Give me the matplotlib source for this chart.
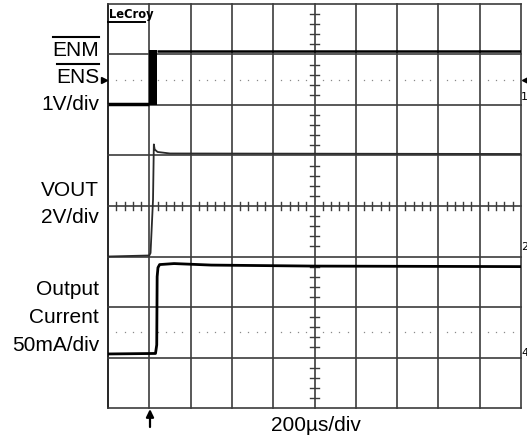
import matplotlib
matplotlib.use('Agg')
import matplotlib.pyplot as plt
import numpy as np
from matplotlib.lines import Line2D
from matplotlib.transforms import IdentityTransform

# ---------------- data (time in divisions, level in divisions from bottom) ----
en_edge = [1.0, 1.19]          # ENM / ENS rising edge span
en_low_time = [0.0, 1.0]
en_low_level = [6.02, 6.02]
en_high_time = [1.19, 10.0]
en_high_level = [7.06, 7.06]
en_levels = [6.0, 7.08]

vout_time = [0.0, 1.0, 1.03, 1.09, 1.11, 1.13, 1.2, 1.5, 10.0]
vout_level = [3.0, 3.02, 3.07, 4.12, 5.22, 5.12, 5.07, 5.04, 5.03]

cur_time = [0.0, 1.15, 1.18, 1.19, 1.21, 1.25, 1.6, 2.5, 5.0, 10.0]
cur_level = [1.07, 1.08, 1.25, 2.6, 2.78, 2.84, 2.86, 2.83, 2.81, 2.80]

left_labels = [("ENM", 56), ("ENS", 83), ("1V/div", 110),
               ("VOUT", 196), ("2V/div", 223),
               ("Output", 295), ("Current", 323), ("50mA/div", 351)]
overlined = ["ENM", "ENS"]
right_markers = [("1", 100), ("2", 250), ("4", 356)]
time_label = "200µs/div"
brand = "LeCroy"

# ---------------- figure ------------------------------------------------------
W, H = 527, 440
fig = plt.figure(figsize=(W / 100, H / 100), dpi=100)
fig.patch.set_facecolor('white')
x0, x1, ytop, ybot = 108, 521, 4, 408
ax = fig.add_axes([x0 / W, 1 - ybot / H, (x1 - x0) / W, (ybot - ytop) / H])
ax.set_xlim(0, 10)
ax.set_ylim(0, 8)
ax.set_axis_off()

grid_c = '#3c3c3c'
for i in range(11):
    ax.axvline(i, color=('black' if i == 0 else grid_c), lw=1.2, clip_on=False, zorder=1)
for j in range(9):
    ax.axhline(j, color=grid_c, lw=1.2, clip_on=False, zorder=1)

# centre graticule ticks
minor_x = [t for t in np.arange(0.2, 10, 0.2) if abs(t - round(t)) > 1e-6]
minor_y = [t for t in np.arange(0.2, 8, 0.2) if abs(t - round(t)) > 1e-6]
for t in minor_x:
    ax.plot([t, t], [4 - 0.08, 4 + 0.08], color=grid_c, lw=1.0, zorder=1)
for t in minor_y:
    ax.plot([5 - 0.11, 5 + 0.11], [t, t], color=grid_c, lw=1.0, zorder=1)

# dotted reference lines
for lvl in (6.5, 1.5):
    ax.plot(minor_x, [lvl] * len(minor_x), ls='none', marker='s', ms=0.9,
            mew=0, color='#8a8a8a', zorder=1)

# traces
ax.fill_between(en_edge, en_levels[0], en_levels[1], color='black', lw=0, zorder=3)
ax.plot(en_low_time, en_low_level, color='black', lw=2.5, zorder=3, solid_capstyle='butt')
ax.plot(en_high_time, en_high_level, color='black', lw=1.8, zorder=3, solid_capstyle='butt')
ax.plot(vout_time, vout_level, color='#2a2a2a', lw=1.3, zorder=3)
ax.plot(cur_time, cur_level, color='black', lw=2.0, zorder=3)

# ---------------- text --------------------------------------------------------
fnt = dict(family='Liberation Sans', fontsize=15, color='black')
texts = {}
for lab, yb in left_labels:
    texts[lab] = fig.text(99 / W, 1 - yb / H, lab, ha='right', va='baseline', **fnt)

fig.text(316 / W, 1 - 431 / H, time_label, ha='center', va='baseline', **fnt)
for lab, yb in right_markers:
    fig.text(521.3 / W, 1 - yb / H, lab, ha='left', va='baseline',
             family='Liberation Sans Narrow', fontsize=8, color='black')

fig.text(108.5 / W, 1 - 18 / H, brand, ha='left', va='baseline',
         family='DejaVu Sans', fontweight='bold', fontstretch='condensed',
         fontsize=9.2, color='black')

renderer = fig.canvas.get_renderer()
ov_y = {"ENM": 37, "ENS": 64}
for lab in overlined:
    bb = texts[lab].get_window_extent(renderer)
    yy = H - ov_y[lab]
    fig.add_artist(Line2D([bb.x0 + 1, bb.x1], [yy, yy], color='black', lw=1.5,
                          transform=IdentityTransform()))

# underline of brand
fig.add_artist(Line2D([108, 145], [H - 22, H - 22], color='black', lw=1.4,
                      transform=IdentityTransform()))
# ENS pointer and channel 1 pointer
fig.add_artist(Line2D([103.5], [H - 80], marker='>', ms=5, color='black', ls='none',
                      transform=IdentityTransform()))
fig.add_artist(Line2D([525], [H - 80], marker='<', ms=5, color='black', ls='none',
                      transform=IdentityTransform()))
# trigger arrow
ax.annotate('', xy=(150, H - 409), xytext=(150, H - 427),
            xycoords='figure pixels', textcoords='figure pixels',
            arrowprops=dict(arrowstyle='-|>,head_length=0.45,head_width=0.22',
                            color='black', lw=1.6, shrinkA=0, shrinkB=0))

fig.savefig('out.png', dpi=100, facecolor='white')
